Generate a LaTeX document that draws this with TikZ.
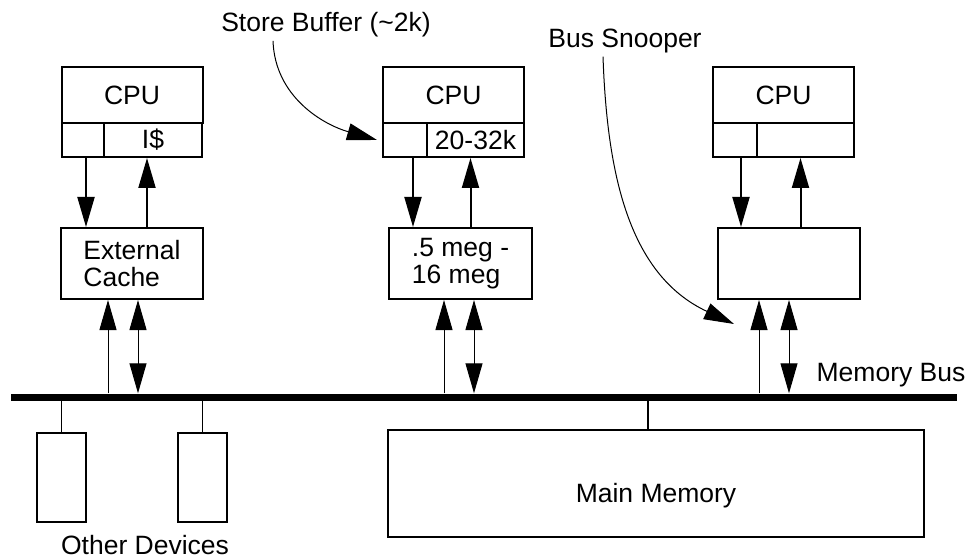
\documentclass[tikz,border=0pt]{standalone}
\usepackage{fontspec}
\setmainfont{Liberation Sans}
\usetikzlibrary{arrows.meta,positioning,calc}

\begin{document}
\begin{tikzpicture}[
  x=1pt,y=-1pt,
  font=\fontsize{26.5}{27}\selectfont,
  unit/.style={draw,line width=2pt,inner sep=0pt,align=center},
  cpubox/.style={unit,minimum width=141pt,minimum height=56pt},
  cell/.style={unit,minimum height=34pt},
  cachebox/.style={unit,minimum width=142pt,minimum height=71pt,align=left},
  devbox/.style={unit,minimum width=49pt,minimum height=89pt},
  fl/.style={-{Triangle[length=30pt,width=17pt]},line width=2pt},
  bl/.style={-{Triangle[length=30pt,width=17pt]},line width=1pt},
  bbl/.style={{Triangle[length=30pt,width=17pt]}-{Triangle[length=30pt,width=17pt]},line width=1pt},
  stub/.style={line width=1.5pt}
]
\useasboundingbox (0,0) rectangle (967,559);

% processors
\node[cpubox] (cpu1) at (132,95) {CPU};
\node[cell,minimum width=42pt] (sb1) at (83,140) {};
\node[cell,minimum width=98pt] (ic1) at (153,140) {I\$};
\node[cpubox] (cpu2) at (453.5,95) {CPU};
\node[cell,minimum width=44pt] (sb2) at (405,140) {};
\node[cell,minimum width=97pt] (ic2) at (475.5,140) {20-32k};
\node[cpubox] (cpu3) at (783.5,95) {CPU};
\node[cell,minimum width=44pt] (sb3) at (735,140) {};
\node[cell,minimum width=97pt] (ic3) at (805.5,140) {};

% external caches
\node[cachebox] (ec1) at (132,263.5) {External\\Cache};
\node[cachebox,minimum width=143pt] (ec2) at (460.5,263.5) {.5 meg -\\16 meg};
\node[cachebox] (ec3) at (789,263.5) {};

% bus, devices, memory
\node[fill=black,minimum width=946pt,minimum height=7pt,inner sep=0pt] (bus) at (484,397) {};
\node[devbox] (dev1) at (61.5,477.5) {};
\node[devbox] (dev2) at (202.5,477.5) {};
\node[unit,minimum width=536pt,minimum height=107pt,text height=38pt,text depth=0pt] (mem) at (656,483.5) {Main Memory};

% labels
\node (sblabel) at (326,25) {Store Buffer (\textasciitilde2k)};
\node (bslabel) at (625,41) {Bus Snooper};
\node (buslabel) at (891,375) {Memory Bus};
\node[inner sep=1pt] (devlabel) at (145,545) {Other Devices};

% cpu <-> cache
\draw[fl] ([xshift=3pt]sb1.south) -- ([xshift=3pt]sb1.south |- ec1.north);
\draw[fl] ([xshift=-6pt]ic1.south |- ec1.north) -- ([xshift=-6pt]ic1.south);
\draw[fl] ([xshift=8pt]sb2.south) -- ([xshift=8pt]sb2.south |- ec2.north);
\draw[fl] ([xshift=-5pt]ic2.south |- ec2.north) -- ([xshift=-5pt]ic2.south);
\draw[fl] ([xshift=6pt]sb3.south) -- ([xshift=6pt]sb3.south |- ec3.north);
\draw[fl] ([xshift=-5pt]ic3.south |- ec3.north) -- ([xshift=-5pt]ic3.south);

% cache <-> bus
\draw[bl] ([xshift=-24pt]ec1.south |- bus.north) -- ([xshift=-24pt]ec1.south);
\draw[bbl] ([xshift=6pt]ec1.south |- bus.north) -- ([xshift=6pt]ec1.south);
\draw[bl] ([xshift=-16.5pt]ec2.south |- bus.north) -- ([xshift=-16.5pt]ec2.south);
\draw[bbl] ([xshift=13.5pt]ec2.south |- bus.north) -- ([xshift=13.5pt]ec2.south);
\draw[bl] ([xshift=-30pt]ec3.south |- bus.north) -- ([xshift=-30pt]ec3.south);
\draw[bbl] (ec3.south |- bus.north) -- (ec3.south);

% stubs
\draw[stub] (dev1.north) -- (dev1.north |- bus.south);
\draw[stub] (dev2.north) -- (dev2.north |- bus.south);
\draw[stub] ([xshift=-8pt]mem.north) -- ([xshift=-8pt]mem.north |- bus.south);

% callouts
\draw[bl] ([xshift=-53pt]sblabel.south) to[out=-88,in=164] ([xshift=-5pt]sb2.west);
\draw[bl] ([xshift=-22pt]bslabel.south) to[out=-88,in=155] ([xshift=17pt,yshift=-24pt]ec3.south west);
\end{tikzpicture}
\end{document}
